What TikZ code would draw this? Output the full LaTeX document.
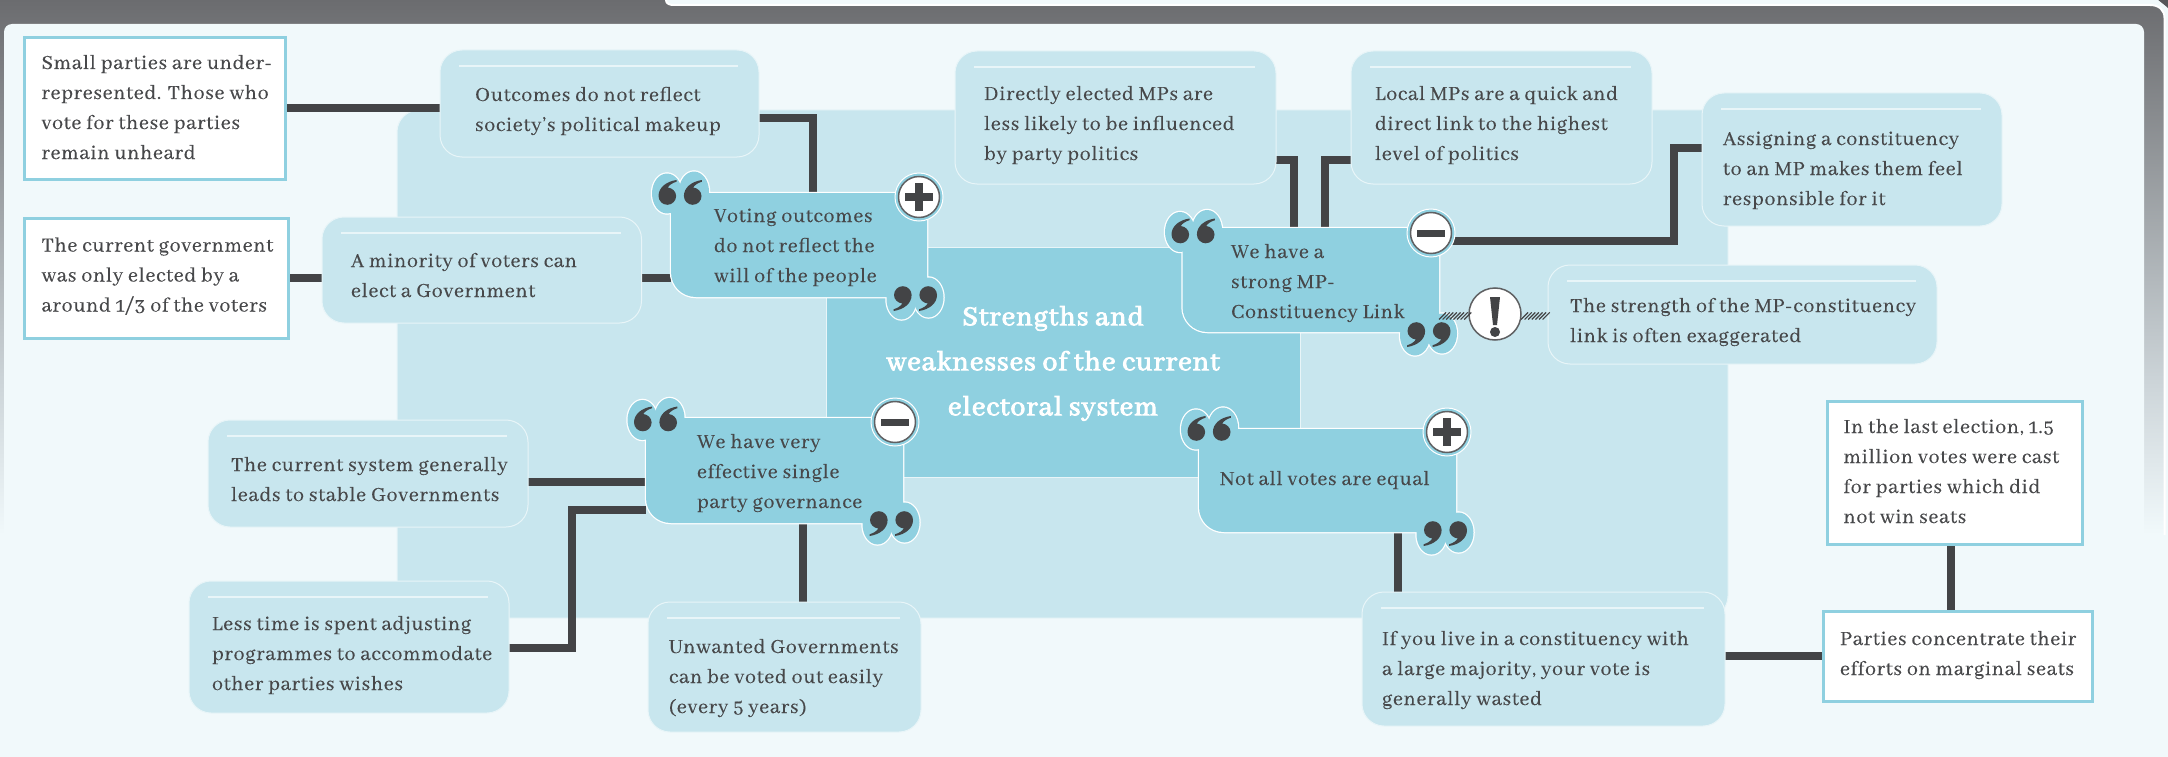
\documentclass[tikz,border=0pt]{standalone}
\usepackage{fontspec}
\setmainfont{Abhaya Libre}[LetterSpace=3,FakeBold=0.35]
\newfontfamily\titlefont{Abhaya Libre}[LetterSpace=3,FakeBold=3]
\usetikzlibrary{decorations.pathreplacing}
\definecolor{ink}{HTML}{47484A}
\definecolor{lineink}{HTML}{434446}
\definecolor{panelc}{HTML}{F1F9FB}
\definecolor{lightc}{HTML}{C8E6EE}
\definecolor{midc}{HTML}{8FD0E0}
\definecolor{rulec}{HTML}{E8F5F8}
\definecolor{framec}{HTML}{6B6C6F}
\definecolor{framem}{HTML}{CDD5D9}
\pgfdeclarelayer{bglayer}
\pgfdeclarelayer{connlayer}
\pgfsetlayers{bglayer,connlayer,main}
\tikzset{
  lbox/.style={rectangle,rounded corners=22pt,fill=lightc,draw=rulec,line width=1pt,inner sep=0pt,outer sep=0pt},
  wbox/.style={rectangle,fill=white,draw=midc,line width=3pt,inner sep=0pt,outer sep=0pt},
  ghost/.style={rectangle,inner sep=0pt,outer sep=0pt},
  txt/.style={anchor=north west,inner sep=0pt,outer sep=0pt,align=left,text=ink,font=\fontsize{22}{30}\selectfont},
  rulel/.style={draw=rulec,line width=1.5pt},
  conn/.style={draw=lineink,line width=8pt,line join=miter},
  hatch/.style={draw=lineink,line width=1.2pt,decorate,decoration={border,segment length=3.6pt,amplitude=10pt,angle=45,raise=-3.5pt}},
  badge/.style={circle,fill=white,draw=lineink!85,line width=1.5pt,inner sep=0pt,outer sep=0pt,minimum size=41pt},
  bigbadge/.style={badge,minimum size=52pt},
  bstroke/.style={draw=white,line width=2.5pt},
  bfill/.style={fill=midc}
}
\newcommand\lightnode[8]{%
  \pgfmathsetmacro\wv{#4-#2}\pgfmathsetmacro\hv{#5-#3}%
  \node[lbox,minimum width=\wv pt,minimum height=\hv pt] (#1) at ({(#2+#4)/2},{(#3+#5)/2}) {};
  \draw[rulel] ({#2+19},{#3+16}) -- ({#4-21},{#3+16});
  \node[txt] (#1text) at (#6,{#7-16}) {\rule{0pt}{16pt}#8};
}
\newcommand\whitenode[8]{%
  \pgfmathsetmacro\wv{#4-#2}\pgfmathsetmacro\hv{#5-#3}%
  \node[wbox,minimum width=\wv pt,minimum height=\hv pt] (#1) at ({(#2+#4)/2},{(#3+#5)/2}) {};
  \node[txt] (#1text) at (#6,{#7-16}) {\rule{0pt}{16pt}#8};
}
\newcommand\qglyph[3]{%
  \begin{scope}[shift={(#1,#2)},rotate=#3]
    \foreach \dx in {-12.7,12.7}{
      \fill[lineink,shift={(\dx,0)}] (-8.8,3.5) .. controls (-8.8,-5) and (-1,-11) .. (9.2,-12.5) -- (9.2,-10.8) .. controls (5,-9.5) and (2,-7.5) .. (0.5,-5) .. controls (5,-4.5) and (8.8,-1) .. (8.8,3.5) arc[start angle=0,end angle=-180,radius=8.8pt] -- cycle;
    }
  \end{scope}
}
\newcommand\bubblenode[9]{%
  \pgfmathsetmacro\wv{#4-#2}\pgfmathsetmacro\hv{#5-#3}%
  \def\bubblebody##1{%
    \path[##1] (#2,#3) -- (#4,#3) -- (#4,#5) -- ({#2+25},#5) .. controls ({#2+11},#5) and (#2,{#5-11}) .. (#2,{#5-25}) -- cycle;
    \path[##1] ({#6-13},{#7+1}) ellipse[x radius=15pt,y radius=20pt];
    \path[##1] ({#6+14},{#7-1}) ellipse[x radius=15pt,y radius=20pt];
    \path[##1] ({#8+13},{#9-1}) ellipse[x radius=15pt,y radius=20pt];
    \path[##1] ({#8-14},{#9+1}) ellipse[x radius=15pt,y radius=20pt];
  }%
  \bubblebody{bstroke}
  \bubblebody{bfill}
  \node[ghost,minimum width=\wv pt,minimum height=\hv pt] (#1) at ({(#2+#4)/2},{(#3+#5)/2}) {};
  \qglyph{#6}{#7}{0}
  \qglyph{#8}{#9}{180}
}
\newcommand\plusbadge[3]{%
  \fill[midc,draw=white,line width=1pt] (#2,#3) circle[radius=24pt];
  \node[badge] (#1) at (#2,#3) {};
  \fill[lineink] ({#2-14},{#3-3.7}) rectangle ({#2+14},{#3+3.7});
  \fill[lineink] ({#2-3.7},{#3-14}) rectangle ({#2+3.7},{#3+14});
}
\newcommand\minusbadge[3]{%
  \fill[midc,draw=white,line width=1pt] (#2,#3) circle[radius=24pt];
  \node[badge] (#1) at (#2,#3) {};
  \fill[lineink] ({#2-14},{#3-3.5}) rectangle ({#2+14},{#3+3.5});
}
\begin{document}
\begin{tikzpicture}[x=1pt,y=-1pt]
\useasboundingbox (0,0) rectangle (2168,757);
\begin{pgfonlayer}{bglayer}
  \fill[panelc] (0,0) rectangle (2168,757);
  \shade[top color=framec,bottom color=framem] (0,0) rectangle (2168,385);
  \shade[top color=framem,bottom color=panelc] (0,385) rectangle (2168,535);
  \fill[panelc] (666,-10) -- (666,0) .. controls (666,4) and (670,5) .. (674,5) -- (2150,5) .. controls (2159,5) and (2164.5,10) .. (2164.5,18) -- (2164.5,760) -- (2170,760) -- (2170,-10) -- cycle;
  \draw[white,line width=2pt] (666,0) .. controls (666,4) and (670,5) .. (674,5) -- (2150,5) .. controls (2159,5) and (2164.5,10) .. (2164.5,18) -- (2164.5,535);
  \fill[framec!80!black] (2157,-1) -- (2169,-1) -- (2169,9) .. controls (2166,6) and (2162,3) .. cycle;
  \fill[panelc,rounded corners=8pt] (4,24) rectangle (2144,790);
  \fill[lightc,draw=rulec,line width=1pt,rounded corners=22pt] (397,110) rectangle (1728,618);
  \node[ghost,fill=midc,draw=rulec,line width=1pt,minimum width=474pt,minimum height=230pt] (centre) at (1063,362) {};
\end{pgfonlayer}

\whitenode{small}{24}{38}{285}{179}{41.5}{69}{Small parties are under-\\represented. Those who\\vote for these parties\\remain unheard}
\whitenode{gov}{24}{218}{288}{338}{41.5}{251.5}{The current government\\was only elected by a\\around 1/3 of the voters}
\lightnode{outcomes}{440}{50}{759}{157}{475}{101}{Outcomes do not reflect\\society’s political makeup}
\lightnode{minority}{322}{217}{641.5}{323}{351}{267}{A minority of voters can\\elect a Government}
\lightnode{direct}{955}{51}{1276}{184}{984}{100}{Directly elected MPs are\\less likely to be influenced\\by party politics}
\lightnode{local}{1351}{51}{1652}{184}{1375}{100}{Local MPs are a quick and\\direct link to the highest\\level of politics}
\lightnode{assign}{1702}{93}{2002}{226}{1723}{145}{Assigning a constituency\\to an MP makes them feel\\responsible for it}
\lightnode{strength}{1548}{265}{1937}{364}{1570}{312}{The strength of the MP-constituency\\link is often exaggerated}
\lightnode{stable}{208}{420}{528}{527}{231}{471}{The current system generally\\leads to stable Governments}
\lightnode{lesstime}{189}{581}{509}{713}{212}{630}{Less time is spent adjusting\\programmes to accommodate\\other parties wishes}
\lightnode{unwanted}{648}{602}{921}{732}{669}{653}{Unwanted Governments\\can be voted out easily\\(every 5 years)}
\lightnode{wasted}{1362}{592}{1725}{726}{1382}{645}{If you live in a constituency with\\a large majority, your vote is\\generally wasted}
\whitenode{parties}{1823}{611}{2092}{701}{1840}{645}{Parties concentrate their\\efforts on marginal seats}
\whitenode{election}{1827}{401}{2082}{544}{1843.5}{433}{In the last election, 1.5\\million votes were cast\\for parties which did\\not win seats}

\bubblenode{voting}{671}{193}{927}{297}{680}{192.5}{915.5}{298.5}
\plusbadge{votingsign}{919}{197}
\node[txt] (votingtext) at (714,206) {\rule{0pt}{16pt}Voting outcomes\\do not reflect the\\will of the people};

\bubblenode{mplink}{1182.5}{228}{1439}{332}{1193}{231}{1429}{334.5}
\minusbadge{mplinksign}{1431}{233}
\node[txt] (mplinktext) at (1231,242) {\rule{0pt}{16pt}We have a\\strong MP-\\Constituency Link};

\bubblenode{single}{646}{418}{903}{523}{655.5}{419}{891.5}{523.5}
\minusbadge{singlesign}{895}{422}
\node[txt] (singletext) at (697,432) {\rule{0pt}{16pt}We have very\\effective single\\party governance};

\bubblenode{equal}{1199}{429}{1456}{532}{1209}{428.5}{1445.5}{533.5}
\plusbadge{equalsign}{1447}{432}
\node[txt] (equaltext) at (1220,469) {\rule{0pt}{16pt}Not all votes are equal};

\node[anchor=north,inner sep=0pt,align=center,text=white,font=\titlefont\fontsize{30}{45}\selectfont] (title) at (1053,301) {\rule{0pt}{24pt}Strengths and\\weaknesses of the current\\electoral system};

\node[bigbadge] (warn) at (1495,314) {};
\fill[lineink] (1490,297) -- (1500,297) -- (1497,325) -- (1493,325) -- cycle;
\fill[lineink] (1495,332) circle[radius=5pt];

\draw[hatch] (mplink.east |- 0,316) -- (warn.west |- 0,316);
\draw[hatch] (warn.east |- 0,316) -- (strength.west |- 0,316);

\begin{pgfonlayer}{connlayer}
  \draw[conn] (small.east |- 0,108) -- (outcomes.west |- 0,108);
  \draw[conn] (outcomes.east |- 0,118) -| (813,0 |- voting.north);
  \draw[conn] (gov.east |- 0,278) -- (minority.west |- 0,278);
  \draw[conn] (minority.east |- 0,278) -- (voting.west |- 0,278);
  \draw[conn] (direct.east |- 0,160) -| (1293.5,0 |- mplink.north);
  \draw[conn] (local.west |- 0,160) -| (1325,0 |- mplink.north);
  \draw[conn] (mplinksign.east |- 0,241) -| (1674,148) -- (assign.west |- 0,148);
  \draw[conn] (stable.east |- 0,482) -- (single.west |- 0,482);
  \draw[conn] (lesstime.east |- 0,648) -| (572,510) -- (single.west |- 0,510);
  \draw[conn] (802.5,0 |- single.south) -- (802.5,0 |- unwanted.north);
  \draw[conn] (1398,0 |- equal.south) -- (1398,0 |- wasted.north);
  \draw[conn] (wasted.east |- 0,656) -- (parties.west |- 0,656);
  \draw[conn] (1951,0 |- election.south) -- (1951,0 |- parties.north);
\end{pgfonlayer}
\end{tikzpicture}
\end{document}
